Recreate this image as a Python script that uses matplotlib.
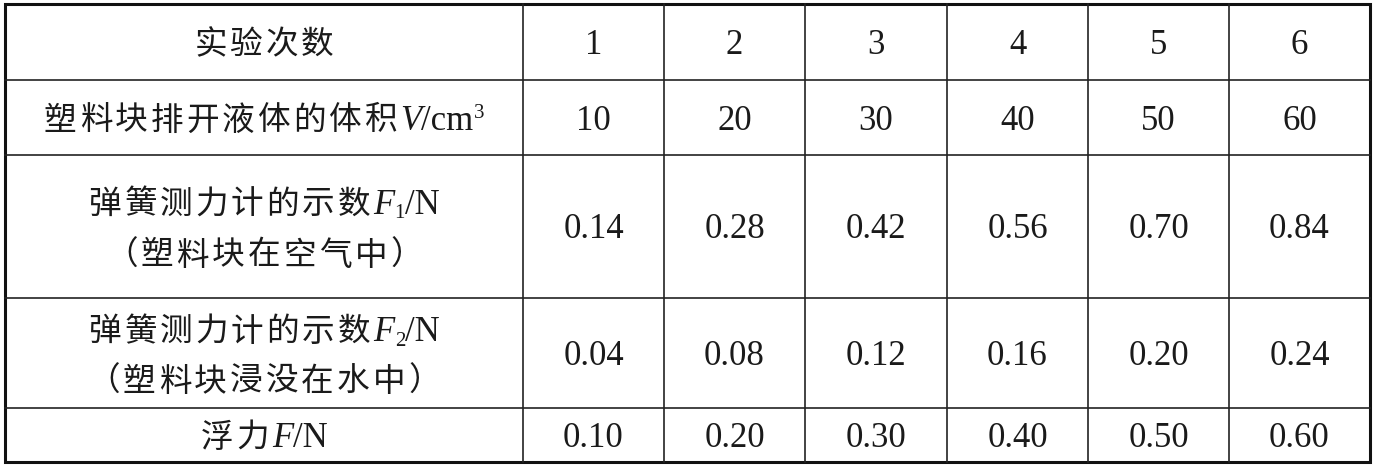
import matplotlib
matplotlib.use("Agg")
import matplotlib.pyplot as plt

# table data
trials = [1, 2, 3, 4, 5, 6]
volume = [10, 20, 30, 40, 50, 60]
f1_air = [0.14, 0.28, 0.42, 0.56, 0.70, 0.84]
f2_water = [0.04, 0.08, 0.12, 0.16, 0.20, 0.24]
buoyancy = [0.10, 0.20, 0.30, 0.40, 0.50, 0.60]

FAM = ["Liberation Serif", "Noto Sans CJK SC", "DejaVu Sans"]
FS = 25
CJK = 0.94  # chinese glyphs a little smaller than latin
TRACK = 3.0  # extra px between chinese characters
INK = "#1a1a1a"

W, H = 1376, 467
fig = plt.figure(figsize=(W / 100, H / 100), dpi=100)
ax = fig.add_axes([0, 0, 1, 1])
ax.set_xlim(0, W)
ax.set_ylim(H, 0)
ax.axis("off")

# grid geometry (pixels)
col_edges = [5, 523, 664, 805, 947, 1088, 1229, 1370]
row_edges = [4, 80, 155, 298, 408, 462]

for y in row_edges[1:-1]:
    ax.plot([col_edges[0], col_edges[-1]], [y, y], color="#222222", lw=1.2)
for x in col_edges[1:-1]:
    ax.plot([x, x], [row_edges[0], row_edges[-1]], color="#222222", lw=1.2)
ax.add_patch(plt.Rectangle((col_edges[0], row_edges[0]),
                           col_edges[-1] - col_edges[0],
                           row_edges[-1] - row_edges[0],
                           fill=False, ec="#111111", lw=2.2))

renderer = fig.canvas.get_renderer()


def rich(xc, yc, parts):
    """parts: list of (text, italic, size_scale, dy); cjk parts get tracking"""
    pieces = []
    for s, it, sc, dy in parts:
        if sc == CJK:
            pieces += [(ch, it, sc, dy, TRACK) for ch in s]
        else:
            pieces.append((s, it, sc, dy, 0))
    arts, widths = [], []
    for s, it, sc, dy, tr in pieces:
        t = ax.text(0, 0, s, family=FAM, fontsize=FS * sc, color=INK,
                    style="italic" if it else "normal",
                    ha="left", va="baseline")
        widths.append(t.get_window_extent(renderer).width + tr)
        arts.append(t)
    total = sum(widths) - pieces[-1][4]
    x = xc - total / 2
    base = yc + 12
    for t, w, p in zip(arts, widths, pieces):
        t.set_position((x, base + p[3]))
        x += w


def plain(xc, yc, s, sc=1.0):
    rich(xc, yc, [(s, False, sc, 0)])


label_x = (col_edges[0] + col_edges[1]) / 2
row_c = [(row_edges[i] + row_edges[i + 1]) / 2 for i in range(5)]

plain(label_x, row_c[0], "实验次数", CJK)
rich(label_x, row_c[1], [("塑料块排开液体的体积", False, CJK, 0),
                         ("V", True, 1, 0), ("/cm", False, 1, 0),
                         ("3", False, 0.6, -12)])
rich(label_x, row_c[2] - 25, [("弹簧测力计的示数", False, CJK, 0),
                              ("F", True, 1, 0), ("1", False, 0.6, 5),
                              ("/N", False, 1, 0)])
plain(label_x, row_c[2] + 26, "（塑料块在空气中）", CJK)
rich(label_x, row_c[3] - 24, [("弹簧测力计的示数", False, CJK, 0),
                              ("F", True, 1, 0), ("2", False, 0.6, 5),
                              ("/N", False, 1, 0)])
plain(label_x, row_c[3] + 26, "（塑料块浸没在水中）", CJK)
rich(label_x, row_c[4], [("浮力", False, CJK, 0), ("F", True, 1, 0),
                         ("/N", False, 1, 0)])

rows = [
    [str(v) for v in trials],
    [str(v) for v in volume],
    [f"{v:.2f}" for v in f1_air],
    [f"{v:.2f}" for v in f2_water],
    [f"{v:.2f}" for v in buoyancy],
]
for r, vals in enumerate(rows):
    for c, s in enumerate(vals):
        xc = (col_edges[c + 1] + col_edges[c + 2]) / 2
        plain(xc, row_c[r], s)

fig.savefig("out.png", dpi=100, facecolor="white")
